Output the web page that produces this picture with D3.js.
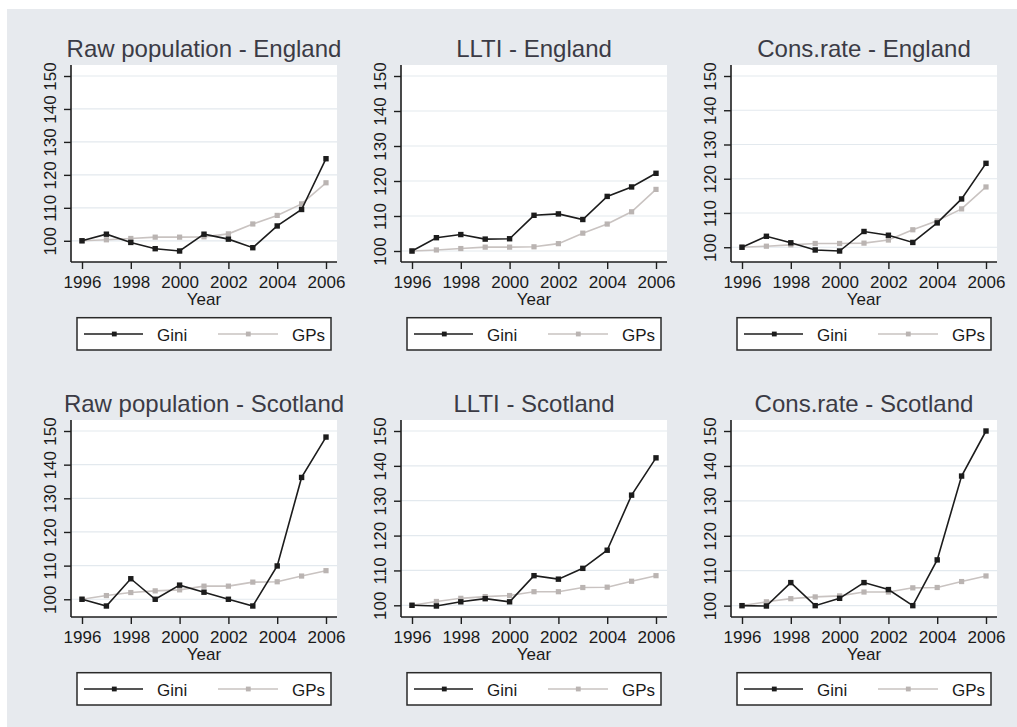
<!DOCTYPE html>
<html>
<head>
<meta charset="utf-8">
<script src="https://cdn.jsdelivr.net/npm/d3@7"></script>
<style>
  html, body { margin: 0; padding: 0; background: #ffffff; }
  svg { display: block; font-family: "Liberation Sans", Arial, Helvetica, sans-serif; }
</style>
</head>
<body>
<svg id="chart" width="1017" height="727"></svg>
<script>
// ---- Data ----
const years = [1996, 1997, 1998, 1999, 2000, 2001, 2002, 2003, 2004, 2005, 2006];
const xTicks = [1996, 1998, 2000, 2002, 2004, 2006];
const yTicks = [100, 110, 120, 130, 140, 150];
const seriesNames = ["Gini", "GPs"];
const panelTitles = [
  "Raw population - England", "LLTI - England", "Cons.rate - England",
  "Raw population - Scotland", "LLTI - Scotland", "Cons.rate - Scotland"
];

const gpsEngland      = [100, 100.3, 100.7, 101.1, 101.1, 101.2, 102.1, 105.1, 107.7, 111.2, 117.6];
const gpsScotland     = [100, 101.1, 102.0, 102.5, 102.8, 103.9, 103.9, 105.1, 105.2, 106.9, 108.5];

const giniRawEngland  = [100, 102.0, 99.5, 97.6, 96.9, 102.0, 100.5, 97.9, 104.5, 109.5, 124.9];
const giniLltiEngland = [100, 103.8, 104.7, 103.4, 103.5, 110.2, 110.6, 109.0, 115.6, 118.3, 122.2];
const giniConsEngland = [100, 103.2, 101.3, 99.2, 98.9, 104.6, 103.5, 101.4, 107.1, 114.1, 124.5];

const giniRawScotland  = [100, 98.0, 106.1, 100, 104.2, 102.1, 100, 98.0, 109.9, 136.2, 148.2];
const giniLltiScotland = [100, 99.8, 101.0, 101.9, 101.0, 108.5, 107.5, 110.6, 115.8, 131.6, 142.3];
const giniConsScotland = [100, 99.9, 106.6, 100, 102.1, 106.6, 104.6, 100, 113.1, 137.1, 150.0];

const panelGini = [giniRawEngland, giniLltiEngland, giniConsEngland,
                   giniRawScotland, giniLltiScotland, giniConsScotland];
const panelGps  = [gpsEngland, gpsEngland, gpsEngland,
                   gpsScotland, gpsScotland, gpsScotland];

// ---- Style / layout ----
const W = 1017, H = 727;
const bg = "#e7eaee";
const giniColor = "#1c1c1c";
const gpsLine = "#c9c3c1";
const gpsMarker = "#bab4b2";
const gridColor = "#e3e9ee";
const axisColor = "#1e1e1e";
const titleColor = "#3b3b45";

const svg = d3.select("#chart");
svg.append("rect").attr("x", 0).attr("y", 0).attr("width", W).attr("height", H).attr("fill", "#ffffff");
svg.append("rect").attr("x", 7).attr("y", 9).attr("width", W - 7).attr("height", H - 9).attr("fill", bg);

const colX = [71, 401, 731];
const rowY = [65, 420];
const plotW = 266, plotH = 197;

panelTitles.forEach((title, i) => {
  const L = colX[i % 3];
  const T = rowY[Math.floor(i / 3)];
  const R = L + plotW, B = T + plotH;
  const gini = panelGini[i], gps = panelGps[i];
  const all = gini.concat(gps);
  const lo = Math.min(100, d3.min(all));
  const hi = Math.max(150, d3.max(all));

  const x = d3.scaleLinear().domain([1996, 2006]).range([L + 11, R - 11]);
  const y = d3.scaleLinear().domain([lo, hi]).range([B - 11, T + 11]);

  const g = svg.append("g");

  // plot area
  g.append("rect").attr("x", L).attr("y", T).attr("width", plotW).attr("height", plotH).attr("fill", "#ffffff");

  // gridlines
  g.selectAll(".grid").data(yTicks).enter().append("line")
    .attr("x1", L).attr("x2", R)
    .attr("y1", d => y(d)).attr("y2", d => y(d))
    .attr("stroke", gridColor).attr("stroke-width", 1.2);

  // title
  g.append("text").attr("x", (L + R) / 2).attr("y", T - 8)
    .attr("text-anchor", "middle").attr("font-size", 24).attr("fill", titleColor)
    .text(title);

  // y axis
  const yAxis = d3.axisLeft(y).tickValues(yTicks).tickSize(7).tickPadding(8).tickFormat(d3.format("d"));
  const ya = g.append("g").attr("transform", `translate(${L},0)`).call(yAxis);
  ya.select(".domain").attr("d", `M0,${T}V${B}`).attr("stroke", axisColor).attr("stroke-width", 1.6);
  ya.selectAll(".tick line").attr("stroke", axisColor).attr("stroke-width", 1.4);
  ya.selectAll(".tick text")
    .attr("font-size", 17).attr("fill", "#1a1a1a")
    .attr("font-family", "Liberation Sans, Arial, sans-serif")
    .attr("x", null).attr("dy", null)
    .attr("text-anchor", "middle")
    .attr("transform", "translate(-15,0) rotate(-90)");

  // x axis
  const xAxis = d3.axisBottom(x).tickValues(xTicks).tickSize(7).tickPadding(6).tickFormat(d3.format("d"));
  const xa = g.append("g").attr("transform", `translate(0,${B})`).call(xAxis);
  xa.select(".domain").attr("d", `M${L},0H${R}`).attr("stroke", axisColor).attr("stroke-width", 1.6);
  xa.selectAll(".tick line").attr("stroke", axisColor).attr("stroke-width", 1.4);
  xa.selectAll(".tick text")
    .attr("font-size", 17).attr("fill", "#1a1a1a")
    .attr("font-family", "Liberation Sans, Arial, sans-serif")
    .attr("dy", null).attr("y", 26);

  // x axis title
  g.append("text").attr("x", (L + R) / 2).attr("y", B + 42.5)
    .attr("text-anchor", "middle").attr("font-size", 17).attr("fill", "#1a1a1a")
    .text("Year");

  // lines
  const line = d3.line().x((d, k) => x(years[k])).y(d => y(d));
  g.append("path").datum(gps).attr("d", line).attr("fill", "none")
    .attr("stroke", gpsLine).attr("stroke-width", 1.6);
  g.selectAll(".gpsm").data(gps).enter().append("rect")
    .attr("x", (d, k) => x(years[k]) - 2.6).attr("y", d => y(d) - 2.6)
    .attr("width", 5.2).attr("height", 5.2).attr("fill", gpsMarker);

  g.append("path").datum(gini).attr("d", line).attr("fill", "none")
    .attr("stroke", giniColor).attr("stroke-width", 1.6);
  g.selectAll(".ginim").data(gini).enter().append("rect")
    .attr("x", (d, k) => x(years[k]) - 2.7).attr("y", d => y(d) - 2.7)
    .attr("width", 5.4).attr("height", 5.4).attr("fill", giniColor);

  // legend
  const lt = B + 55.7;
  const lg = g.append("g");
  lg.append("rect").attr("x", L + 6).attr("y", lt).attr("width", 254).attr("height", 32.3)
    .attr("fill", "#ffffff").attr("stroke", "#2a2a2a").attr("stroke-width", 1.5);
  const ly = lt + 16.3;
  // Gini
  lg.append("line").attr("x1", L + 13).attr("x2", L + 72).attr("y1", ly).attr("y2", ly)
    .attr("stroke", giniColor).attr("stroke-width", 1.6);
  lg.append("rect").attr("x", L + 43.3 - 2.4).attr("y", ly - 2.4).attr("width", 4.8).attr("height", 4.8)
    .attr("fill", giniColor);
  lg.append("text").attr("x", L + 86).attr("y", lt + 23).attr("font-size", 17).attr("fill", "#1a1a1a")
    .text(seriesNames[0]);
  // GPs
  lg.append("line").attr("x1", L + 147).attr("x2", L + 207).attr("y1", ly).attr("y2", ly)
    .attr("stroke", gpsLine).attr("stroke-width", 1.6);
  lg.append("rect").attr("x", L + 177.3 - 2.4).attr("y", ly - 2.4).attr("width", 4.8).attr("height", 4.8)
    .attr("fill", gpsMarker);
  lg.append("text").attr("x", L + 254).attr("y", lt + 23).attr("text-anchor", "end")
    .attr("font-size", 17).attr("fill", "#1a1a1a")
    .text(seriesNames[1]);
});
</script>
</body>
</html>
